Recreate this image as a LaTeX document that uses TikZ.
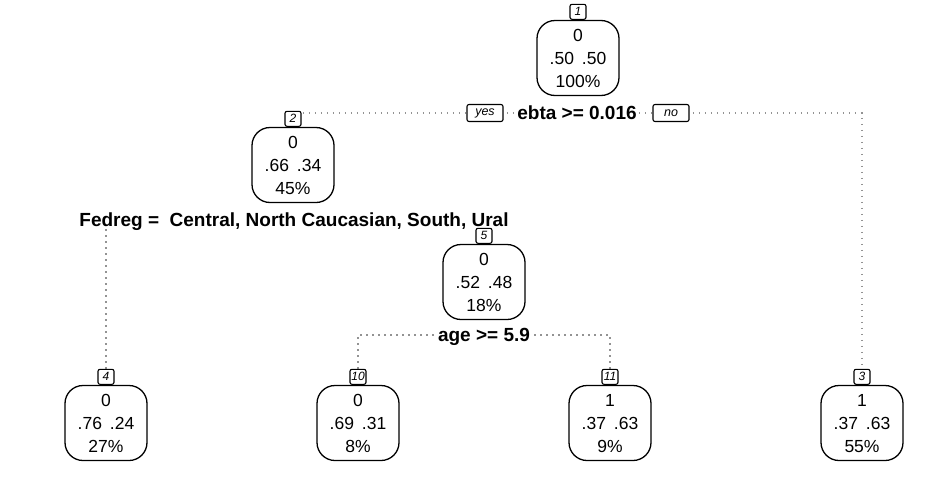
\documentclass[tikz,border=0pt]{standalone}
\usepackage{fontspec}
\setmainfont{Liberation Sans}
\pgfdeclarelayer{edges}
\pgfsetlayers{edges,main}
\tikzset{
  treenode/.style={draw, line width=1.3pt, rounded corners=18pt, minimum width=82pt,
    minimum height=75pt, align=center, inner sep=0pt, text depth=0pt,
    font=\fontsize{17.5}{23}\selectfont},
  nid/.style={draw, line width=1.1pt, rounded corners=2pt, minimum width=16pt,
    minimum height=15pt, inner sep=1pt, anchor=south, fill=white,
    font=\fontsize{12}{12}\selectfont\itshape},
  splitlab/.style={fill=white, inner sep=1.5pt, text depth=0pt,
    font=\fontsize{19}{19}\selectfont\bfseries},
  yn/.style={draw, line width=1.1pt, rounded corners=2pt, minimum width=36pt,
    minimum height=17pt, inner sep=1pt, fill=white,
    font=\fontsize{12.5}{12.5}\selectfont\itshape},
  treeedge/.style={draw=gray!85, line width=1.6pt, dash pattern=on 1.6pt off 4.4pt}
}
\begin{document}
\begin{tikzpicture}[x=1pt,y=-1pt]
\begin{pgfonlayer}{edges}
\fill[white] (0,0) rectangle (949,498);
\end{pgfonlayer}
\useasboundingbox (0,0) rectangle (949,498);

% split labels
\node[splitlab] (s1) at (577,113) {ebta >= 0.016};
\node[yn] (yes) at (485,113) {yes};
\node[yn] (no) at (671,113) {no};
\node[splitlab] (s2) at (294,220) {Fedreg =\ \ Central, North Caucasian, South, Ural};
\node[splitlab] (s5) at (484,335) {age >= 5.9};

% nodes
\node[treenode] (n1) at (578,58) {0\\.50\hspace{0.45em}.50\\100\%};
\node[nid] (i1) at (n1.north) {1};
\node[treenode] (n2) at (293,165) {0\\.66\hspace{0.45em}.34\\45\%};
\node[nid] (i2) at (n2.north) {2};
\node[treenode] (n5) at (484,282) {0\\.52\hspace{0.45em}.48\\18\%};
\node[nid] (i5) at (n5.north) {5};
\node[treenode] (n4) at (106,423) {0\\.76\hspace{0.45em}.24\\27\%};
\node[nid] (i4) at (n4.north) {4};
\node[treenode] (n10) at (358,423) {0\\.69\hspace{0.45em}.31\\8\%};
\node[nid] (i10) at (n10.north) {10};
\node[treenode] (n11) at (610,423) {1\\.37\hspace{0.45em}.63\\9\%};
\node[nid] (i11) at (n11.north) {11};
\node[treenode] (n3) at (862,423) {1\\.37\hspace{0.45em}.63\\55\%};
\node[nid] (i3) at (n3.north) {3};

% edges
\begin{pgfonlayer}{edges}
\draw[treeedge] (i2.north) |- (s1.center) -| (i3.north);
\draw[treeedge] (i4.north) |- (s2.center) -| (i5.north);
\draw[treeedge] (i10.north) |- (s5.center) -| (i11.north);
\end{pgfonlayer}
\end{tikzpicture}
\end{document}
